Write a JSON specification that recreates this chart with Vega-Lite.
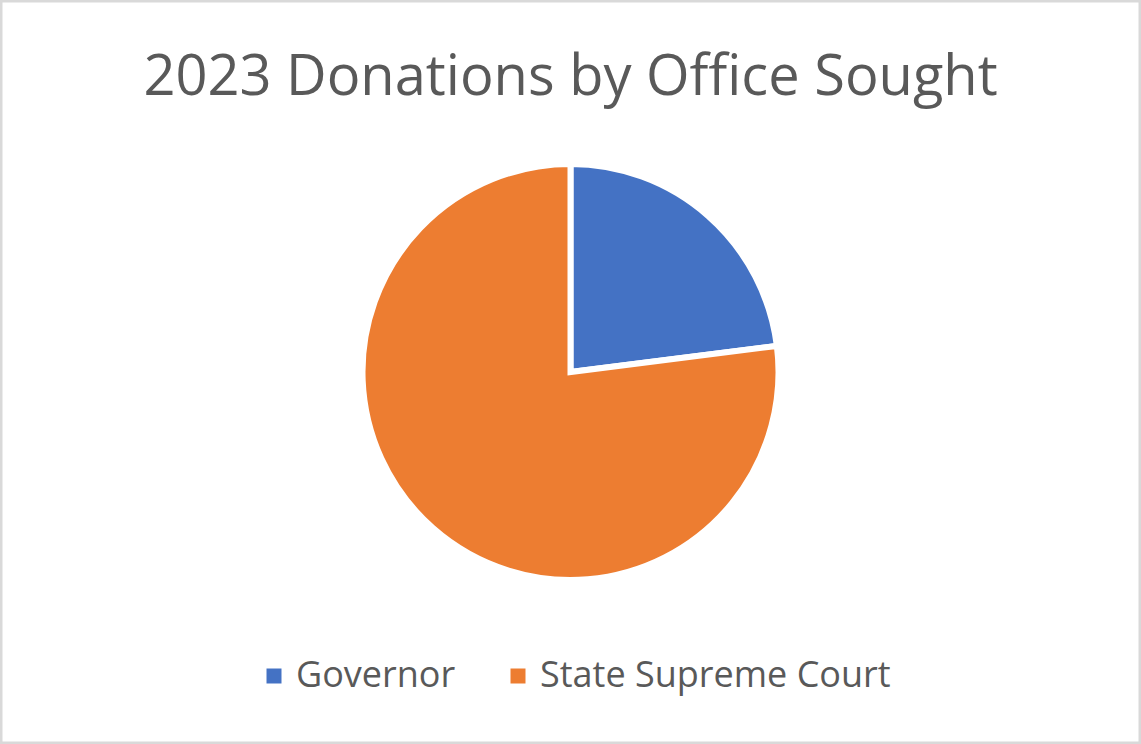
{
  "$schema": "https://vega.github.io/schema/vega-lite/v6.json",
  "width": 1141,
  "height": 744,
  "padding": 0,
  "autosize": {"type": "none"},
  "background": "white",
  "title": {
    "text": "2023 Donations by Office Sought",
    "font": "Open Sans",
    "fontSize": 56,
    "fontWeight": "normal",
    "color": "#595959",
    "anchor": "middle",
    "offset": -109
  },
  "data": {
    "values": [
      {"office": "Governor", "amount": 23},
      {"office": "State Supreme Court", "amount": 77}
    ]
  },
  "layer": [
    {
      "mark": {"type": "arc", "radius": 208, "stroke": "white", "strokeWidth": 6, "strokeJoin": "miter"},
      "encoding": {
        "theta": {"field": "amount", "type": "quantitative", "stack": true},
        "color": {
          "field": "office",
          "type": "nominal",
          "scale": {"domain": ["Governor", "State Supreme Court"], "range": ["#4472C4", "#ED7D31"]},
          "legend": {
            "title": null,
            "orient": "none",
            "legendX": 256,
            "legendY": 658,
            "padding": 0,
            "direction": "horizontal",
            "symbolType": "square",
            "symbolSize": 225,
            "symbolStrokeWidth": 0,
            "labelFont": "Open Sans",
            "labelFontSize": 36,
            "labelColor": "#595959",
            "labelOffset": 4,
            "columnPadding": 44,
            "labelLimit": 600
          }
        }
      }
    },
    {
      "transform": [{"filter": "datum.office === 'Governor'"}],
      "mark": {"type": "rect", "fill": null, "fillOpacity": 0, "stroke": "#d9d9d9", "strokeWidth": 5},
      "encoding": {}
    }
  ]
}
